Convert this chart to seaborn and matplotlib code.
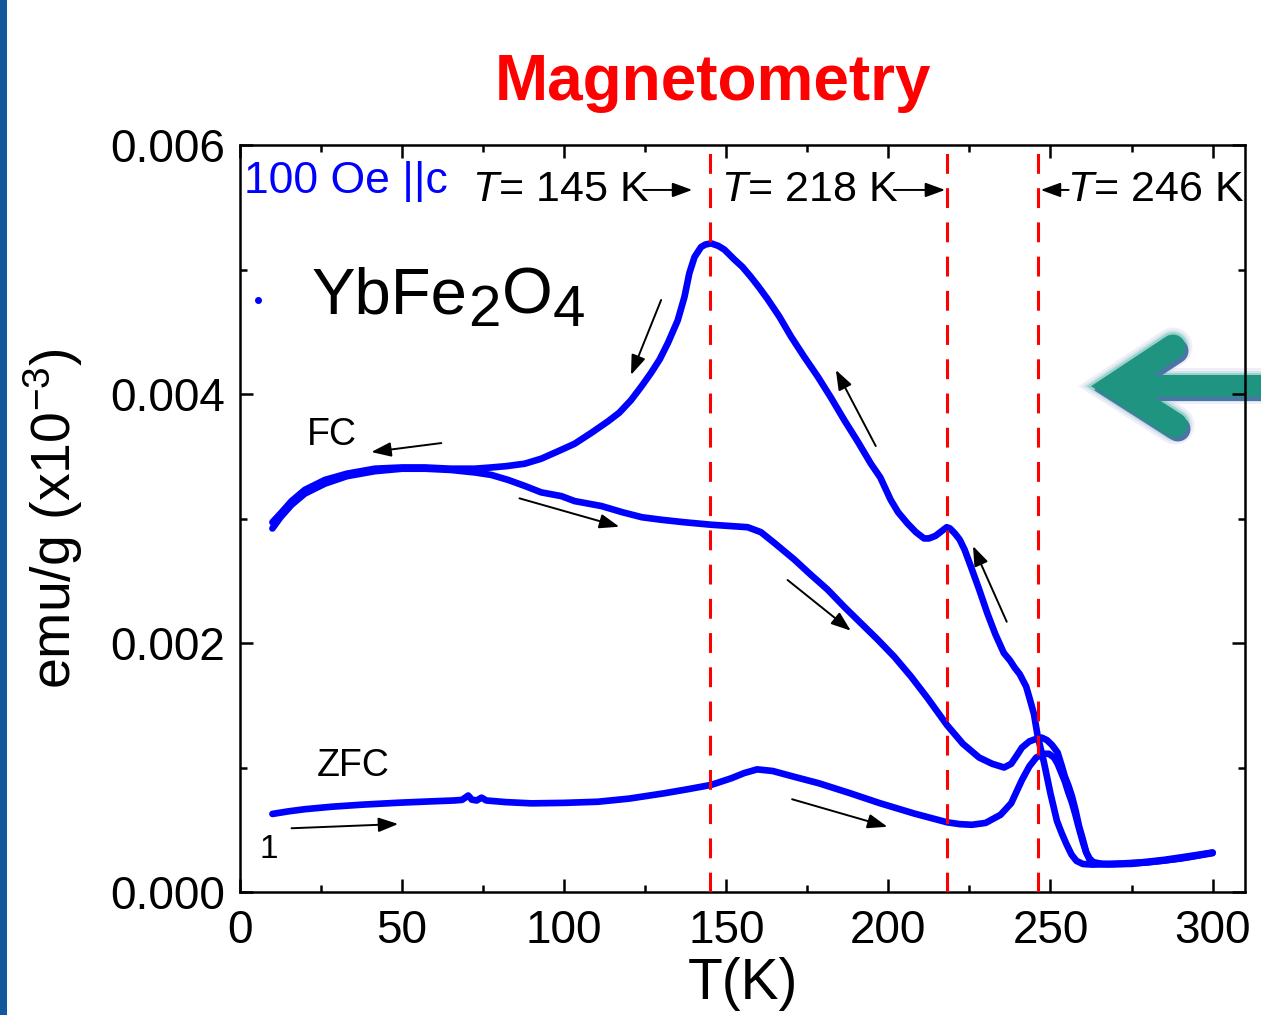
import matplotlib
matplotlib.use("Agg")
import matplotlib.pyplot as plt
from matplotlib.lines import Line2D
from matplotlib.patches import Rectangle
from matplotlib.ticker import MultipleLocator, FormatStrFormatter
import numpy as np
import pandas as pd
import seaborn as sns

# ---------------- data ----------------
# FC cooling run (measured from 300 K downwards)
fcc_T = [300, 292, 285, 278, 270, 263, 260, 258, 256.5, 255, 253.5, 252, 250, 248,
         246, 244.9, 243.5, 242.5, 240.5, 239, 237.5, 235.6, 233, 230.5, 228, 225.5,
         223.5, 222, 220.5, 219, 218, 216.5, 214.5, 212.5, 211, 208.5, 205.9, 203,
         200.7, 197.5, 194.6, 190.5, 186.4, 182.3, 178.2, 174, 170, 166.4, 162.8, 160,
         157.6, 155, 152.5, 149.4, 147.5, 145.3, 143.5, 142.2, 140.2, 138.6, 137.1, 135,
         132, 129.5, 126.8, 123.8, 120.6, 117, 113.5, 108.5, 103.2, 98.1, 92.9, 87.8,
         82, 77.5, 72.4, 65, 57, 50, 41.6, 33, 26.2, 20, 15.9, 12.5, 10]
fcc_M = [0.000317, 0.000285, 0.000258, 0.000238, 0.000226, 0.000220, 0.000225, 0.000250,
         0.000300, 0.00038, 0.00047, 0.00057, 0.00079, 0.00104, 0.00126, 0.00143, 0.00156,
         0.00165, 0.00175, 0.00180, 0.00186, 0.00192, 0.00207, 0.00224, 0.00243, 0.00261,
         0.00275, 0.00283, 0.00288, 0.00292, 0.00293, 0.00290, 0.00286, 0.00284, 0.00284,
         0.00289, 0.00296, 0.00305, 0.00315, 0.00333, 0.00344, 0.00362, 0.00379, 0.00397,
         0.00414, 0.00430, 0.00446, 0.00462, 0.00476, 0.00486, 0.00494, 0.00502, 0.00508,
         0.00516, 0.00519, 0.00521, 0.00520, 0.00518, 0.00510, 0.00497, 0.00478, 0.00459,
         0.00441, 0.00428, 0.00417, 0.00406, 0.00395, 0.00385, 0.00378, 0.00369, 0.00360,
         0.00354, 0.00348, 0.00344, 0.00342, 0.00341, 0.00340, 0.00340, 0.00341, 0.00341,
         0.00340, 0.00336, 0.00331, 0.00323, 0.00314, 0.00304, 0.00297]

# FC warming run
fcw_T = [10, 12.5, 15.9, 20, 26.2, 33, 41.6, 50, 57, 65, 72.4, 77.5, 82.7, 88, 92.9,
         99.1, 103.2, 111.5, 118, 124, 129.9, 137, 145.3, 151, 156.6, 160.7, 165, 171,
         176, 181.2, 186.4, 191.5, 196.6, 201.8, 207, 212, 218.1, 223, 228, 232, 235.7,
         237.9, 239.7, 241.2, 243.5, 245.6, 247.3, 248.9, 250.5, 252.2, 253.4, 254.4,
         255.6, 256.6, 257.7, 258.8, 260, 261, 262, 263.2, 266, 272, 280, 290, 300]
fcw_M = [0.00292, 0.00301, 0.00311, 0.00320, 0.00328, 0.00334, 0.00338, 0.00340, 0.00340,
         0.00339, 0.00337, 0.00335, 0.00331, 0.00326, 0.00321, 0.00318, 0.00314, 0.00310,
         0.00305, 0.00301, 0.00299, 0.00297, 0.00295, 0.00294, 0.00293, 0.00289, 0.00280,
         0.00267, 0.00255, 0.00243, 0.00229, 0.00216, 0.00203, 0.00189, 0.00173, 0.00156,
         0.00134, 0.00119, 0.00108, 0.00103, 0.00100, 0.00103, 0.00110, 0.00116, 0.00121,
         0.00123, 0.00124, 0.00122, 0.00118, 0.00112, 0.00102, 0.00093, 0.00085, 0.00077,
         0.00066, 0.00053, 0.00042, 0.00032, 0.00027, 0.00024, 0.000225, 0.000226,
         0.000238, 0.000268, 0.000312]

# ZFC warming run
zfc_T = [10, 15, 20, 28.3, 38, 48.9, 58, 66, 68.5, 70.4, 71.5, 73, 74.5, 76, 82, 89.9,
         100, 110.4, 120, 130.9, 138, 145.3, 151.5, 155.5, 159.5, 164.3, 171, 178.6, 188,
         197.3, 208, 218.1, 222, 225.8, 230, 234.6, 237.9, 239.6, 241.2, 243.5, 245.6,
         247.8, 249.5, 251.1, 252.2, 253.3, 254.4, 255.5, 256.6, 257.7, 258.8, 260, 261,
         262.1, 263.5, 268, 275, 285, 293, 300]
zfc_M = [0.000627, 0.000648, 0.000665, 0.000685, 0.000702, 0.000717, 0.000727, 0.000735,
         0.000740, 0.000775, 0.000742, 0.000735, 0.000758, 0.000735, 0.000722, 0.000712,
         0.000716, 0.000725, 0.000750, 0.000793, 0.000825, 0.000860, 0.000913, 0.000955,
         0.000985, 0.000972, 0.000925, 0.000873, 0.000795, 0.000714, 0.000630, 0.000560,
         0.000545, 0.000540, 0.000555, 0.000620, 0.000714, 0.00081, 0.00090, 0.00101,
         0.00108, 0.00111, 0.00111, 0.00108, 0.00103, 0.00096, 0.00089, 0.00080, 0.00072,
         0.00062, 0.00051, 0.00040, 0.00032, 0.00026, 0.000230, 0.000222, 0.000226,
         0.000252, 0.000282, 0.000316]

transition_T = [145, 218, 246]
transition_labels = ["$T$= 145 K", "$T$= 218 K", "$T$= 246 K"]

x_ticks = [0, 50, 100, 150, 200, 250, 300]
y_ticks = [0.000, 0.002, 0.004, 0.006]

runs = pd.concat([
    pd.DataFrame({"T": fcc_T, "M": fcc_M, "run": "FC cooling"}),
    pd.DataFrame({"T": fcw_T, "M": fcw_M, "run": "FC warming"}),
    pd.DataFrame({"T": zfc_T, "M": zfc_M, "run": "ZFC"}),
], ignore_index=True)

# ---------------- style ----------------
sns.set_style("ticks")
plt.rcParams["font.family"] = ["Liberation Sans", "DejaVu Sans"]
plt.rcParams["mathtext.fontset"] = "custom"
plt.rcParams["mathtext.rm"] = "Liberation Sans"
plt.rcParams["mathtext.it"] = "Liberation Sans:italic"
plt.rcParams["mathtext.bf"] = "Liberation Sans:bold"
for key in ["text.color", "axes.labelcolor", "xtick.color", "ytick.color",
            "axes.edgecolor"]:
    plt.rcParams[key] = "black"

W, H = 1261, 1015
fig = plt.figure(figsize=(W / 100, H / 100), dpi=100)
fig.patch.set_facecolor("white")


def fx(px):
    return px / W


def fy(py):
    return 1 - py / H


ax = fig.add_axes([fx(240), fy(892), (1245 - 240) / W, (892 - 145) / H])
ax.patch.set_alpha(0)

for name, grp in runs.groupby("run", sort=False):
    sns.lineplot(data=grp, x="T", y="M", sort=False, estimator=None, ax=ax,
                 color="#0000ff", lw=4.8, legend=False, zorder=3)

for t in transition_T:
    ax.axvline(t, color="#ff0000", lw=2.2, ls=(0, (6.5, 4.7)), zorder=4)

ax.set_xlim(0, 310)
ax.set_ylim(0, 0.006)
ax.set_xticks(x_ticks)
ax.set_yticks(y_ticks)
ax.xaxis.set_minor_locator(MultipleLocator(25))
ax.yaxis.set_minor_locator(MultipleLocator(0.001))
ax.yaxis.set_major_formatter(FormatStrFormatter("%.3f"))
ax.tick_params(which="both", direction="in", top=True, right=True, width=1.8,
               labelsize=33, color="black", labelcolor="black")
ax.tick_params(which="major", length=9.5)
ax.tick_params(which="minor", length=5)
ax.tick_params(axis="x", pad=12)
ax.tick_params(axis="y", pad=11)
for s in ax.spines.values():
    s.set_linewidth(1.8)
    s.set_color("black")
    s.set_visible(True)

ax.set_xlabel("T(K)", fontsize=41, labelpad=3)
ax.set_ylabel("emu/g (x10$^{-3}$)", fontsize=40, labelpad=18)

# ---------------- annotations ----------------
arrow_kw = dict(arrowstyle="-|>,head_length=0.6,head_width=0.22", color="black",
                lw=1.4, mutation_scale=20, shrinkA=0, shrinkB=0)


def arrow(tail, tip):
    ax.annotate("", xy=tip, xytext=tail, arrowprops=arrow_kw, zorder=5)


arrow((129.9, 0.004755), (120.6, 0.004153))
arrow((62.1, 0.003606), (40.5, 0.003534))
arrow((86.2, 0.003162), (117.0, 0.002934))
arrow((196.1, 0.003582), (183.8, 0.004193))
arrow((168.9, 0.002506), (188.4, 0.002099))
arrow((236.5, 0.002171), (226.1, 0.002779))
arrow((170.3, 0.000745), (199.7, 0.000524))
arrow((15.9, 0.000512), (48.8, 0.000546))

label_y = 0.005639
ax.text(71.5, label_y, transition_labels[0], fontsize=31, va="center", ha="left")
arrow((124.4, label_y), (139.5, label_y))
ax.text(148.5, label_y, transition_labels[1], fontsize=31, va="center", ha="left")
arrow((201.7, label_y), (217.5, label_y))
ax.text(255.2, label_y, transition_labels[2], fontsize=31, va="center", ha="left",
        clip_on=False)
arrow((255.6, label_y), (247.0, label_y))

ax.text(1.2, 0.005705, "100 Oe ||c", fontsize=32, color="#0000ff", va="center", ha="left")

ax.text(20.5, 0.00359, "FC", fontsize=27, va="baseline", ha="left")
ax.text(23.6, 0.000934, "ZFC", fontsize=27, va="baseline", ha="left")
ax.text(6.1, 0.000271, "1", fontsize=24, va="baseline", ha="left")

# sample name with large subscripts
ax.plot([5.4], [0.004755], marker="o", ms=4, color="#0000ff", ls="none")
t1 = ax.text(22.0, 0.004648, "YbFe", fontsize=47, va="baseline", ha="left")
t2 = ax.annotate("2", xy=(1, 0), xycoords=t1, xytext=(1, -8.5), textcoords="offset points",
                 fontsize=42, va="bottom", ha="left")
t3 = ax.annotate("O", xy=(1, 0), xycoords=t2, xytext=(0.5, 8.5), textcoords="offset points",
                 fontsize=47, va="bottom", ha="left")
t4 = ax.annotate("4", xy=(1, 0), xycoords=t3, xytext=(0.5, -8.5), textcoords="offset points",
                 fontsize=42, va="bottom", ha="left")

# title
fig.text(fx(713), fy(100), "Magnetometry", fontsize=46, fontweight="bold",
         color="#ff0000", ha="center", va="baseline")

# side bar
fig.add_artist(Rectangle((0, 0), fx(7), 1, transform=fig.transFigure,
                         facecolor="#11599b", edgecolor="none", zorder=-2))

# big teal arrow on the right, drawn below the axes frame
pt = 72 / 100
head_x = [1173, 1114, 1175]
head_y = [347, 386, 425]
shaft_x = [1135, 1275]
shaft_y = [386, 386]


def glow_line(xs, ys, lw_px, color, alpha, dx=0, dy=0, cap="round"):
    ln = Line2D([fx(x + dx) for x in xs], [fy(y + dy) for y in ys],
                transform=fig.transFigure, lw=lw_px * pt, color=color, alpha=alpha,
                solid_capstyle=cap, solid_joinstyle="miter", zorder=-1)
    fig.add_artist(ln)


for extra, col, a in [(14, "#d8cdef", 0.35), (9, "#a8ddd4", 0.45), (5, "#6fc4b5", 0.55)]:
    glow_line(head_x, head_y, 25 + extra, col, a)
    glow_line(shaft_x, shaft_y, 22 + extra, col, a, cap="butt")
glow_line(head_x, head_y, 25, "#4d74a6", 1.0, dx=3, dy=4)
glow_line(shaft_x, shaft_y, 22, "#4d74a6", 1.0, dx=3, dy=4, cap="butt")
glow_line(head_x, head_y, 25, "#1f9480", 1.0)
glow_line(shaft_x, shaft_y, 22, "#1f9480", 1.0, cap="butt")

fig.savefig("out.png", dpi=100, facecolor="white")
